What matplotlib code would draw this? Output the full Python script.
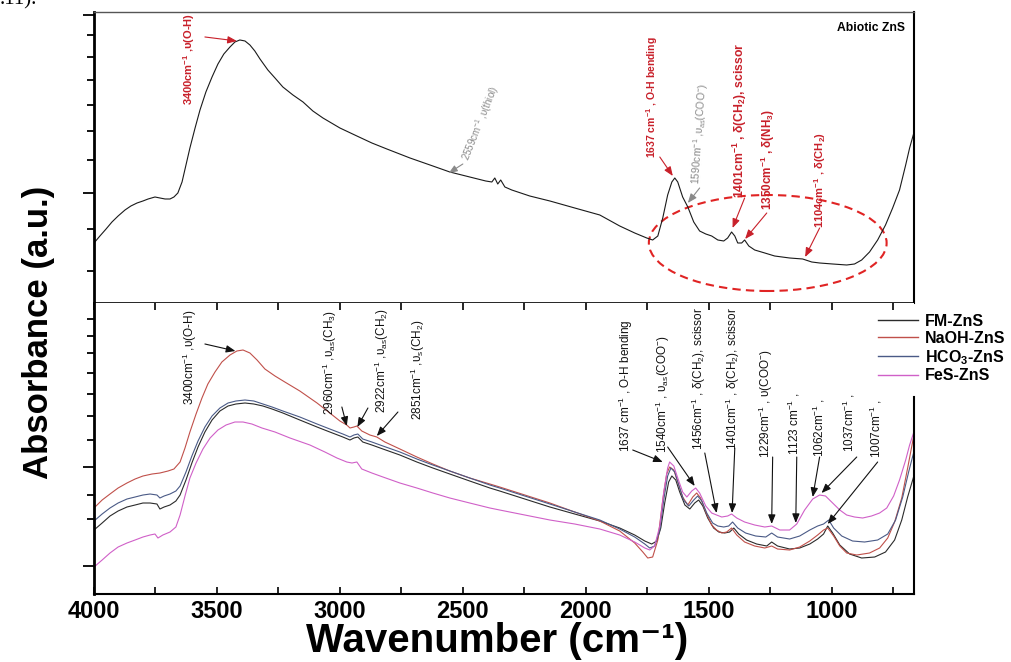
import matplotlib.pyplot as plt
from matplotlib.patches import Ellipse
from matplotlib.lines import Line2D

plt.rcParams['mathtext.default'] = 'regular'

SANS = ['Liberation Sans', 'DejaVu Sans']
RED = '#c8202a'
GREY = '#8a8a8a'

# --- abiotic ZnS spectrum (upper panel) ---
abiotic_wn = [4000, 3976, 3951, 3927, 3902, 3874, 3850, 3825, 3801, 3780, 3752, 3732,
              3711, 3691, 3675, 3659, 3642, 3626, 3610, 3589, 3569, 3545, 3520, 3496,
              3472, 3447, 3427, 3407, 3386, 3366, 3346, 3325, 3293, 3264, 3232, 3191,
              3150, 3110, 3069, 3000, 2931, 2870, 2809, 2715, 2622, 2553, 2472, 2407,
              2382, 2370, 2358, 2346, 2329, 2301, 2228, 2146, 2045, 1943, 1862, 1801,
              1752, 1728, 1707, 1687, 1667, 1650, 1638, 1626, 1606, 1585, 1561, 1537,
              1512, 1488, 1463, 1439, 1423, 1407, 1394, 1382, 1366, 1354, 1337, 1313,
              1272, 1232, 1171, 1118, 1081, 1049, 996, 939, 907, 878, 846, 813, 781,
              752, 724, 699, 683, 667]
abiotic_abs = [0.60, 0.67, 0.74, 0.81, 0.87, 0.93, 0.97, 1.00, 1.02, 1.04, 1.06, 1.05,
               1.04, 1.04, 1.06, 1.10, 1.21, 1.38, 1.55, 1.75, 1.93, 2.11, 2.26, 2.39,
               2.49, 2.56, 2.61, 2.63, 2.62, 2.58, 2.52, 2.44, 2.33, 2.25, 2.16, 2.08,
               2.01, 1.92, 1.85, 1.75, 1.67, 1.60, 1.54, 1.45, 1.37, 1.31, 1.26, 1.22,
               1.21, 1.25, 1.19, 1.23, 1.16, 1.13, 1.07, 1.02, 0.95, 0.88, 0.77, 0.70,
               0.65, 0.63, 0.67, 0.85, 1.08, 1.21, 1.25, 1.21, 1.06, 0.96, 0.81, 0.72,
               0.69, 0.67, 0.63, 0.62, 0.65, 0.71, 0.67, 0.60, 0.60, 0.63, 0.57, 0.53,
               0.50, 0.47, 0.45, 0.44, 0.41, 0.40, 0.39, 0.38, 0.39, 0.43, 0.51, 0.63, 0.78,
               0.95, 1.13, 1.38, 1.55, 1.69]

# --- modified ZnS spectra (lower panel) ---
naoh_wn = [4000, 3967, 3935, 3902, 3866, 3833, 3801, 3764, 3732, 3699, 3675, 3650,
           3630, 3610, 3585, 3561, 3537, 3508, 3480, 3447, 3419, 3394, 3366, 3337,
           3305, 3264, 3224, 3163, 3093, 3041, 3000, 2972, 2959, 2943, 2931, 2911,
           2878, 2850, 2817, 2756, 2687, 2622, 2553, 2472, 2390, 2350, 2248, 2146,
           2045, 1943, 1862, 1801, 1768, 1748, 1728, 1707, 1687, 1671, 1659, 1642,
           1626, 1606, 1585, 1565, 1549, 1533, 1512, 1488, 1468, 1447, 1427, 1407,
           1386, 1354, 1313, 1272, 1244, 1220, 1171, 1130, 1089, 1057, 1033, 1016,
           992, 967, 939, 898, 846, 805, 772, 744, 715, 691, 667]
naoh_abs = [0.86, 0.94, 1.00, 1.06, 1.11, 1.15, 1.18, 1.20, 1.21, 1.23, 1.25, 1.32,
            1.46, 1.62, 1.80, 1.96, 2.10, 2.22, 2.32, 2.39, 2.43, 2.44, 2.41, 2.34,
            2.25, 2.18, 2.12, 2.03, 1.91, 1.81, 1.73, 1.69, 1.66, 1.67, 1.68, 1.63,
            1.59, 1.57, 1.52, 1.45, 1.37, 1.30, 1.23, 1.16, 1.10, 1.07, 0.99, 0.91,
            0.82, 0.73, 0.63, 0.51, 0.42, 0.36, 0.37, 0.54, 0.94, 1.20, 1.27, 1.24,
            1.12, 0.97, 0.89, 0.97, 1.01, 0.96, 0.82, 0.69, 0.64, 0.61, 0.62, 0.66,
            0.59, 0.52, 0.48, 0.46, 0.48, 0.45, 0.44, 0.47, 0.53, 0.59, 0.64, 0.66,
            0.58, 0.48, 0.41, 0.39, 0.41, 0.46, 0.56, 0.72, 0.96, 1.26, 1.57]

hco3_wn = [4000, 3967, 3935, 3902, 3866, 3833, 3801, 3772, 3744, 3732, 3715, 3691,
           3667, 3650, 3626, 3602, 3577, 3549, 3520, 3488, 3455, 3423, 3386, 3350,
           3313, 3276, 3232, 3163, 3093, 3041, 2988, 2959, 2943, 2927, 2907, 2870,
           2825, 2756, 2687, 2622, 2553, 2472, 2390, 2350, 2248, 2146, 2045, 1943,
           1862, 1801, 1760, 1740, 1720, 1699, 1683, 1667, 1654, 1638, 1622, 1602,
           1581, 1561, 1545, 1528, 1508, 1484, 1463, 1439, 1419, 1403, 1382, 1350,
           1309, 1268, 1244, 1220, 1171, 1130, 1089, 1057, 1033, 1012, 992, 959,
           915, 866, 813, 772, 740, 711, 687, 667]
hco3_abs = [0.73, 0.80, 0.86, 0.91, 0.95, 0.97, 0.99, 1.00, 0.99, 0.96, 0.98, 1.00,
            1.03, 1.08, 1.22, 1.38, 1.53, 1.67, 1.78, 1.86, 1.91, 1.93, 1.94, 1.93,
            1.90, 1.87, 1.83, 1.77, 1.70, 1.65, 1.60, 1.57, 1.59, 1.60, 1.55, 1.52,
            1.48, 1.42, 1.35, 1.29, 1.23, 1.16, 1.09, 1.06, 0.98, 0.90, 0.82, 0.74,
            0.65, 0.57, 0.50, 0.46, 0.48, 0.64, 0.94, 1.18, 1.26, 1.22, 1.09, 0.94,
            0.88, 0.94, 0.98, 0.93, 0.81, 0.71, 0.68, 0.67, 0.68, 0.72, 0.66, 0.61,
            0.58, 0.57, 0.61, 0.57, 0.55, 0.58, 0.64, 0.68, 0.70, 0.74, 0.66, 0.58,
            0.53, 0.52, 0.54, 0.60, 0.74, 0.97, 1.22, 1.41]

fm_wn = [4000, 3967, 3935, 3902, 3866, 3833, 3801, 3772, 3744, 3732, 3715, 3691,
         3667, 3650, 3626, 3602, 3577, 3549, 3520, 3488, 3455, 3423, 3386, 3350,
         3313, 3276, 3232, 3163, 3093, 3041, 2988, 2959, 2943, 2927, 2907, 2870,
         2825, 2756, 2687, 2622, 2553, 2472, 2390, 2350, 2248, 2146, 2045, 1943,
         1862, 1801, 1760, 1732, 1711, 1695, 1679, 1663, 1650, 1634, 1618, 1597,
         1577, 1557, 1541, 1524, 1504, 1480, 1459, 1435, 1415, 1398, 1378, 1346,
         1305, 1264, 1244, 1220, 1171, 1130, 1089, 1057, 1033, 1016, 996, 967,
         927, 878, 825, 781, 744, 715, 691, 667]
fm_abs = [0.64, 0.71, 0.78, 0.83, 0.87, 0.89, 0.91, 0.91, 0.90, 0.85, 0.87, 0.89,
          0.93, 0.99, 1.14, 1.31, 1.47, 1.62, 1.74, 1.83, 1.88, 1.90, 1.91, 1.90,
          1.88, 1.85, 1.81, 1.74, 1.67, 1.62, 1.57, 1.54, 1.56, 1.57, 1.52, 1.49,
          1.45, 1.39, 1.32, 1.26, 1.20, 1.13, 1.06, 1.03, 0.95, 0.87, 0.80, 0.73,
          0.66, 0.59, 0.53, 0.50, 0.53, 0.66, 0.91, 1.12, 1.18, 1.14, 1.02, 0.89,
          0.85, 0.91, 0.94, 0.88, 0.76, 0.66, 0.62, 0.61, 0.62, 0.66, 0.60, 0.54,
          0.50, 0.48, 0.52, 0.48, 0.45, 0.46, 0.50, 0.55, 0.60, 0.68, 0.61, 0.49,
          0.40, 0.36, 0.37, 0.42, 0.54, 0.74, 0.97, 1.17]

fes_wn = [4000, 3967, 3935, 3902, 3866, 3833, 3801, 3772, 3752, 3740, 3720, 3691,
          3667, 3650, 3630, 3610, 3585, 3557, 3528, 3496, 3463, 3427, 3394, 3358,
          3317, 3264, 3203, 3122, 3061, 3012, 2972, 2951, 2931, 2911, 2870, 2825,
          2756, 2687, 2622, 2553, 2472, 2390, 2350, 2248, 2146, 2045, 1943, 1862,
          1801, 1760, 1740, 1720, 1699, 1683, 1667, 1659, 1642, 1626, 1606, 1589,
          1569, 1553, 1537, 1512, 1488, 1468, 1447, 1423, 1407, 1386, 1354, 1313,
          1272, 1244, 1211, 1171, 1142, 1110, 1077, 1049, 1025, 996, 967, 939,
          907, 874, 838, 805, 776, 748, 724, 699, 683, 667]
fes_abs = [0.27, 0.34, 0.41, 0.47, 0.51, 0.54, 0.57, 0.59, 0.60, 0.56, 0.59, 0.62,
           0.67, 0.79, 0.98, 1.16, 1.31, 1.45, 1.56, 1.64, 1.69, 1.72, 1.72, 1.70,
           1.66, 1.62, 1.56, 1.49, 1.42, 1.36, 1.32, 1.31, 1.32, 1.25, 1.21, 1.17,
           1.11, 1.06, 1.01, 0.96, 0.91, 0.86, 0.84, 0.79, 0.74, 0.70, 0.65, 0.59,
           0.52, 0.46, 0.44, 0.48, 0.68, 1.02, 1.26, 1.32, 1.28, 1.16, 1.02, 0.97,
           1.03, 1.06, 1.01, 0.88, 0.81, 0.79, 0.77, 0.78, 0.80, 0.76, 0.72, 0.69,
           0.67, 0.68, 0.64, 0.64, 0.70, 0.84, 0.95, 0.99, 0.98, 0.91, 0.84, 0.79,
           0.77, 0.76, 0.78, 0.81, 0.86, 0.98, 1.14, 1.34, 1.49, 1.61]

series = [
    ('FM-ZnS', fm_wn, fm_abs, '#2b2b2b'),
    ('NaOH-ZnS', naoh_wn, naoh_abs, '#c0504a'),
    ('HCO$_3$-ZnS', hco3_wn, hco3_abs, '#4a5a86'),
    ('FeS-ZnS', fes_wn, fes_abs, '#d060c8'),
]

x_major = [4000, 3500, 3000, 2500, 2000, 1500, 1000]
x_minor = [3750, 3250, 2750, 2250, 1750, 1250, 750]
top_yticks_major = [2.88, 1.10]
top_yticks_minor = [2.68, 2.46, 2.23, 1.98, 1.72, 1.43, 0.74, 0.32]
bot_yticks_major = [1.27, 0.28]
bot_yticks_minor = [2.75, 2.58, 2.41, 2.21, 2.00, 1.78, 1.54, 0.99, 0.75]

fig = plt.figure(figsize=(10.12, 6.62), dpi=100)
ax1 = fig.add_axes([0.0929, 0.5423, 0.8103, 0.4396])
ax2 = fig.add_axes([0.0929, 0.1027, 0.8103, 0.4396])

for ax in (ax1, ax2):
    ax.set_xlim(4000, 665)
    ax.set_ylim(0, 2.91)
    ax.spines['left'].set_linewidth(2.0)
    ax.spines['right'].set_linewidth(1.5)
    ax.tick_params(axis='y', which='major', direction='out', length=8, width=1.3, labelleft=False)
    ax.tick_params(axis='y', which='minor', direction='out', length=5, width=1.3)

ax1.set_yticks(top_yticks_major)
ax1.set_yticks(top_yticks_minor, minor=True)
ax2.set_yticks(bot_yticks_major)
ax2.set_yticks(bot_yticks_minor, minor=True)

ax1.spines['top'].set_linewidth(1.0)
ax1.spines['top'].set_color('#555555')
ax1.spines['bottom'].set_linewidth(1.2)
ax1.tick_params(axis='x', which='both', bottom=False, labelbottom=False)
ax2.spines['top'].set_visible(False)
ax2.spines['bottom'].set_linewidth(1.5)
ax2.spines['right'].set_bounds(0, 1.97)

ax2.set_xticks(x_major)
ax2.set_xticks(x_minor, minor=True)
ax2.set_xticklabels([str(v) for v in x_major])
ax2.tick_params(axis='x', which='both', direction='in', top=True, bottom=True,
                length=5, width=1.2, labelsize=17, pad=4)
for lab in ax2.get_xticklabels():
    lab.set_fontweight('bold')
    lab.set_family(SANS)

# spectra
ax1.plot(abiotic_wn, abiotic_abs, color='#1a1a1a', lw=0.8)
for name, wn, ab, col in series:
    ax2.plot(wn, ab, color=col, lw=0.8, label=name)


def note(ax, x, y, text, color, tail, head, size=8.5, weight='normal', rot=90):
    ax.text(x, y, text, rotation=rot, ha='center', va='bottom', color=color,
            fontsize=size, family=SANS, fontweight=weight)
    ax.annotate('', xy=head, xytext=tail,
                arrowprops=dict(arrowstyle='-|>,head_length=0.55,head_width=0.22',
                                color=color, lw=0.8, shrinkA=0, shrinkB=0))


# upper panel labels
note(ax1, 3614, 1.98, '3400cm$^{-1}$ ,υ(O-H)', RED, (3549, 2.66), (3419, 2.62), size=8, weight='bold')
ax1.text(2488, 1.43, '2559cm$^{-1}$ ,υ(thiol)', rotation=68, rotation_mode='anchor',
         ha='left', va='center', color=GREY, fontsize=7, family=SANS)
ax1.annotate('', xy=(2557, 1.30), xytext=(2500, 1.39),
             arrowprops=dict(arrowstyle='-|>,head_length=0.5,head_width=0.2',
                             color=GREY, lw=0.8, shrinkA=0, shrinkB=0))
note(ax1, 1732, 1.45, '1637 cm$^{-1}$ , O-H bending', RED, (1699, 1.46), (1646, 1.27), size=7.5, weight='bold')
note(ax1, 1537, 1.18, '1590cm$^{-1}$ ,υ$_{as}$(COO$^{-}$)', GREY, (1537, 1.15), (1585, 1.00), size=7.5, rot=86)
note(ax1, 1374, 1.05, '1401cm$^{-1}$ , δ(CH$_2$), scissor', RED, (1354, 1.05), (1403, 0.75), size=8.8, weight='bold')
note(ax1, 1260, 0.93, '1350cm$^{-1}$ , δ(NH$_3$)', RED, (1264, 0.90), (1352, 0.64), size=8.5, weight='bold')
note(ax1, 1049, 0.75, '1104cm$^{-1}$ , δ(CH$_2$)', RED, (1049, 0.75), (1108, 0.46), size=8, weight='bold')
ax1.add_patch(Ellipse((1260, 0.60), width=967, height=0.96, fill=False,
                      edgecolor='#e02424', lw=1.5, linestyle=(0, (4, 2.5))))
ax1.text(0.989, 0.945, 'Abiotic ZnS', transform=ax1.transAxes, ha='right', va='center',
         fontsize=8.7, fontweight='bold', family=SANS)

# lower panel labels
K = '#111111'
note(ax2, 3610, 1.89, '3400cm$^{-1}$ ,υ(O-H)', K, (3549, 2.50), (3425, 2.43))
note(ax2, 3041, 1.79, '2960cm$^{-1}$ ,υ$_{as}$(CH$_3$)', K, (2992, 1.87), (2972, 1.68))
note(ax2, 2829, 1.81, '2922cm$^{-1}$ ,υ$_{as}$(CH$_2$)', K, (2886, 1.86), (2929, 1.67))
note(ax2, 2683, 1.74, '2851cm$^{-1}$ ,υ$_{s}$(CH$_2$)', K, (2764, 1.82), (2850, 1.58))
note(ax2, 1837, 1.42, '1637 cm$^{-1}$ , O-H bending', K, (1809, 1.44), (1687, 1.32))
note(ax2, 1687, 1.41, '1540cm$^{-1}$ , υ$_{as}$(COO$^{-}$)', K, (1667, 1.47), (1557, 1.08))
note(ax2, 1541, 1.44, '1456cm$^{-1}$ , δ(CH$_2$), scissor', K, (1516, 1.41), (1468, 0.81))
note(ax2, 1403, 1.44, '1401cm$^{-1}$ , δ(CH$_2$), scissor', K, (1394, 1.46), (1405, 0.81))
note(ax2, 1268, 1.36, '1229cm$^{-1}$ , υ(COO$^{-}$)', K, (1240, 1.37), (1244, 0.70))
note(ax2, 1154, 1.39, '1123 cm$^{-1}$ ,', K, (1142, 1.37), (1146, 0.71))
note(ax2, 1053, 1.37, '1062cm$^{-1}$ ,', K, (1049, 1.37), (1077, 0.97))
note(ax2, 931, 1.42, '1037cm$^{-1}$ ,', K, (898, 1.37), (1041, 1.01))
note(ax2, 821, 1.36, '1007cm$^{-1}$ ,', K, (813, 1.32), (1016, 0.70))

handles = [Line2D([], [], color=c, lw=1.0) for _, _, _, c in series]
fig.legend(handles, [s[0] for s in series], loc='upper left',
           bbox_to_anchor=(0.8676, 0.5257), frameon=False, borderpad=0,
           borderaxespad=0, handlelength=2.5, handletextpad=0.45, labelspacing=0.12,
           prop={'family': SANS, 'weight': 'bold', 'size': 11.5})

fig.text(0.0385, 0.498, 'Absorbance (a.u.)', rotation=90, ha='center', va='center',
         fontsize=25, fontweight='bold', family=SANS)
fig.text(0.491, 0.031, 'Wavenumber (cm⁻¹)', ha='center', va='center',
         fontsize=29, fontweight='bold', family=SANS)
fig.text(0.0, 1.0, '.11).', ha='left', va='center', fontsize=15, family='Liberation Serif')

fig.savefig('out.png', dpi=100)
